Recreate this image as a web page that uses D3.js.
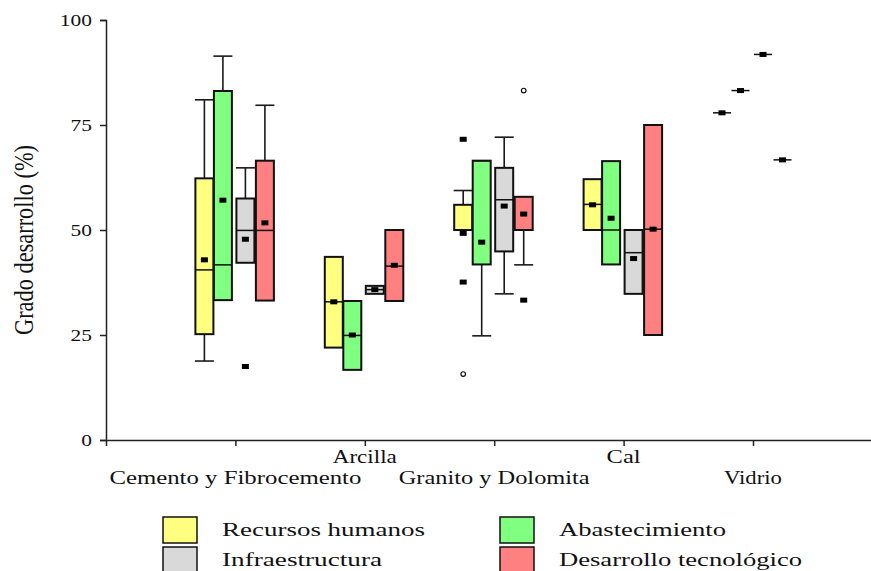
<!DOCTYPE html>
<html>
<head>
<meta charset="utf-8">
<script src="https://cdn.jsdelivr.net/npm/d3@7"></script>
<style>
  html, body { margin: 0; padding: 0; background: #fff; }
  svg { display: block; }
  text { font-family: "Liberation Serif", "Times New Roman", serif; fill: #111; }
</style>
</head>
<body>
<svg id="chart" width="871" height="571"></svg>
<script>
// ---------------- DATA ----------------
const categories = ["Cemento y Fibrocemento", "Arcilla", "Granito y Dolomita", "Cal", "Vidrio"];
const seriesNames = ["Recursos humanos", "Abastecimiento", "Infraestructura", "Desarrollo tecnológico"];
const yTicks = [0, 25, 50, 75, 100];

// rows: series (Recursos humanos, Abastecimiento, Infraestructura, Desarrollo tecnológico)
// cols: categories
const whiskerLow = [
  [18.8, 22.0, 50.0, 50.0, 77.9],
  [33.3, 16.7, 24.8, 41.8, 83.2],
  [42.2, 34.8, 34.8, 34.8, 91.8],
  [33.2, 33.1, 41.7, 25.0, 66.7]
];
const q1 = [
  [25.2, 22.0, 50.0, 50.0, 77.9],
  [33.3, 16.7, 41.8, 41.8, 83.2],
  [42.2, 34.8, 44.9, 34.8, 91.8],
  [33.2, 33.1, 50.0, 25.0, 66.7]
];
const median = [
  [40.5, 32.9, 50.0, 56.1, 77.9],
  [41.7, 24.9, 66.5, 50.0, 83.2],
  [49.9, 35.8, 57.2, 44.6, 91.8],
  [49.9, 41.4, 50.0, 50.2, 66.7]
];
const q3 = [
  [62.3, 43.6, 56.0, 62.1, 77.9],
  [83.1, 33.1, 66.5, 66.4, 83.2],
  [57.5, 36.7, 64.8, 50.0, 91.8],
  [66.5, 50.0, 57.9, 75.0, 66.7]
];
const whiskerHigh = [
  [81.0, 43.6, 59.4, 62.1, 77.9],
  [91.4, 33.1, 66.5, 66.4, 83.2],
  [64.8, 36.7, 72.1, 50.0, 91.8],
  [79.7, 50.0, 57.9, 75.0, 66.7]
];
const mean = [
  [42.9, 32.9, 49.2, 56.0, 77.9],
  [57.1, 25.0, 47.1, 52.8, 83.2],
  [47.8, 35.8, 55.7, 43.2, 91.8],
  [51.7, 41.6, 53.8, 50.2, 66.7]
];
// [seriesIndex, categoryIndex, value]
const outliers = [[0, 2, 71.6], [0, 2, 37.6], [2, 0, 17.5], [3, 2, 33.3]];
const extremes = [[0, 2, 15.7], [3, 2, 83.2]];

// ---------------- STYLE ----------------
const colors = ["#ffff80", "#80ff80", "#d9d9d9", "#ff8080"];
const seriesOffset = [-31, -12.5, 10, 29.5];
const boxW = 18;
const catLabelWidth = [252, 64, 191, 34, 58];
const legendLabelWidth = [203, 167, 160, 243];

// ---------------- CHART ----------------
const svg = d3.select("#chart");
svg.append("rect").attr("width", 871).attr("height", 571).attr("fill", "#fff");

const x = d3.scaleLinear().domain([0, 6]).range([106, 882.4]);
const y = d3.scaleLinear().domain([0, 100]).range([440, 20]);

// Y axis
const yAxis = svg.append("g").attr("transform", `translate(${x(0)},0)`)
  .call(d3.axisLeft(y).tickValues(yTicks).tickSize(6).tickFormat(d3.format("d")));
yAxis.select(".domain").attr("stroke", "#222").attr("stroke-width", 1.5);
yAxis.selectAll(".tick line").attr("stroke", "#222").attr("stroke-width", 1.5);
yAxis.selectAll(".tick text")
  .attr("x", null).attr("dy", null)
  .attr("font-size", 16.5)
  .attr("text-anchor", "end")
  .attr("dominant-baseline", "central")
  .attr("transform", "translate(-14,0) scale(1.3,1)")
  .style("font-family", "'Liberation Serif', serif")
  .attr("fill", "#111");

// X axis
const xAxis = svg.append("g").attr("transform", `translate(0,${y(0)})`)
  .call(d3.axisBottom(x).tickValues([1, 2, 3, 4, 5]).tickSize(6).tickFormat(""));
xAxis.select(".domain").attr("stroke", "#222").attr("stroke-width", 1.5);
xAxis.selectAll(".tick line").attr("stroke", "#222").attr("stroke-width", 1.5);

// Category labels (alternating rows)
categories.forEach((c, i) => {
  svg.append("text")
    .attr("x", x(i + 1))
    .attr("y", i % 2 === 0 ? 484 : 463)
    .attr("text-anchor", "middle")
    .attr("font-size", 18.5)
    .attr("textLength", catLabelWidth[i])
    .attr("lengthAdjust", "spacingAndGlyphs")
    .text(c);
});

// Y label
svg.append("text")
  .attr("transform", `translate(33,240) scale(1.25,1) rotate(-90)`)
  .attr("text-anchor", "middle")
  .attr("font-size", 21)
  .attr("textLength", 190)
  .attr("lengthAdjust", "spacingAndGlyphs")
  .text("Grado desarrollo (%)");

// Boxes
const plot = svg.append("g");
seriesNames.forEach((s, si) => {
  categories.forEach((c, ci) => {
    const cx = x(ci + 1) + seriesOffset[si];
    const g = plot.append("g");
    const stroke = "#1a1a1a";
    // whiskers
    if (whiskerHigh[si][ci] > q3[si][ci]) {
      g.append("line").attr("x1", cx).attr("x2", cx)
        .attr("y1", y(q3[si][ci])).attr("y2", y(whiskerHigh[si][ci]))
        .attr("stroke", stroke).attr("stroke-width", 1.6);
      g.append("line").attr("x1", cx - boxW / 2 - 0.5).attr("x2", cx + boxW / 2 + 0.5)
        .attr("y1", y(whiskerHigh[si][ci])).attr("y2", y(whiskerHigh[si][ci]))
        .attr("stroke", stroke).attr("stroke-width", 1.6);
    }
    if (whiskerLow[si][ci] < q1[si][ci]) {
      g.append("line").attr("x1", cx).attr("x2", cx)
        .attr("y1", y(q1[si][ci])).attr("y2", y(whiskerLow[si][ci]))
        .attr("stroke", stroke).attr("stroke-width", 1.6);
      g.append("line").attr("x1", cx - boxW / 2 - 0.5).attr("x2", cx + boxW / 2 + 0.5)
        .attr("y1", y(whiskerLow[si][ci])).attr("y2", y(whiskerLow[si][ci]))
        .attr("stroke", stroke).attr("stroke-width", 1.6);
    }
    // box
    const h = y(q1[si][ci]) - y(q3[si][ci]);
    if (h > 0.5) {
      g.append("rect")
        .attr("x", cx - boxW / 2).attr("y", y(q3[si][ci]))
        .attr("width", boxW).attr("height", h)
        .attr("fill", colors[si]).attr("stroke", "#111").attr("stroke-width", 2);
    }
    // median
    g.append("line").attr("x1", cx - boxW / 2).attr("x2", cx + boxW / 2)
      .attr("y1", y(median[si][ci])).attr("y2", y(median[si][ci]))
      .attr("stroke", "#111").attr("stroke-width", 1.5);
    // mean marker
    g.append("rect")
      .attr("x", cx - 3.5).attr("y", y(mean[si][ci]) - 2.5)
      .attr("width", 7).attr("height", 5).attr("fill", "#000");
  });
});

// outliers (filled squares)
plot.selectAll(".outlier").data(outliers).join("rect")
  .attr("class", "outlier")
  .attr("x", d => x(d[1] + 1) + seriesOffset[d[0]] - 3.5)
  .attr("y", d => y(d[2]) - 2.5)
  .attr("width", 7).attr("height", 5).attr("fill", "#000");

// extremes (open circles)
plot.selectAll(".extreme").data(extremes).join("circle")
  .attr("class", "extreme")
  .attr("cx", d => x(d[1] + 1) + seriesOffset[d[0]])
  .attr("cy", d => y(d[2]))
  .attr("r", 2.3).attr("fill", "#fff").attr("stroke", "#111").attr("stroke-width", 1.2);

// Legend
const legendPos = [[163, 517], [500, 517], [163, 547], [500, 547]];
seriesNames.forEach((s, i) => {
  const [lx, ly] = legendPos[i];
  svg.append("rect").attr("x", lx).attr("y", ly).attr("width", 34).attr("height", 26)
    .attr("fill", colors[i]).attr("stroke", "#111").attr("stroke-width", 1.5);
  svg.append("text")
    .attr("x", lx + 59).attr("y", ly + 19)
    .attr("font-size", 18)
    .attr("textLength", legendLabelWidth[i])
    .attr("lengthAdjust", "spacingAndGlyphs")
    .text(s);
});
</script>
</body>
</html>
